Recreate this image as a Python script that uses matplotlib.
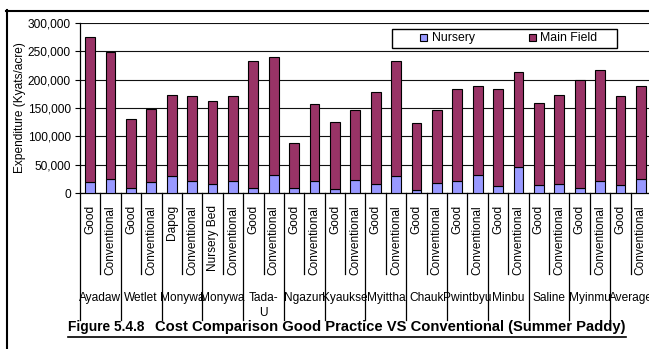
import matplotlib
matplotlib.use('Agg')
import matplotlib.pyplot as plt
from matplotlib.lines import Line2D
from matplotlib.patches import Rectangle
from matplotlib.ticker import FuncFormatter

plt.rcParams['font.family'] = ['Liberation Sans', 'DejaVu Sans']

# practice label under each bar
practices = ['Good', 'Conventional', 'Good', 'Conventional', 'Dapog', 'Conventional',
             'Nursery Bed', 'Conventional', 'Good', 'Conventional', 'Good', 'Conventional',
             'Good', 'Conventional', 'Good', 'Conventional', 'Good', 'Conventional',
             'Good', 'Conventional', 'Good', 'Conventional', 'Good', 'Conventional',
             'Good', 'Conventional', 'Good', 'Conventional']
# township label under each pair of bars
townships = ['Ayadaw', 'Wetlet', 'Monywa', 'Monywa', 'Tada-\nU', 'Ngazun', 'Kyaukse',
             'Myittha', 'Chauk', 'Pwintbyu', 'Minbu', 'Saline', 'Myinmu', 'Average']

nursery = [19000, 25000, 9000, 19000, 31000, 21000, 16000, 21000, 9000, 32000,
           9000, 21000, 7000, 23000, 16000, 30000, 5000, 18000, 21000, 32000,
           12000, 46000, 14000, 16000, 9000, 21000, 14000, 25000]
main_field = [255000, 223000, 121000, 129000, 142000, 150000, 146000, 150000, 223000, 207000,
              80000, 136000, 118000, 123000, 162000, 202000, 118000, 128000, 163000, 157000,
              172000, 168000, 145000, 157000, 191000, 195000, 157000, 164000]

W, H = 649, 349
fig = plt.figure(figsize=(W / 100, H / 100), dpi=100)

def fx(px):
    return px / W

def fy(py):
    return 1 - py / H

# plot area (runs a little past the right edge of the page)
ax_l, ax_t, ax_b, ax_r = 80, 22.7, 193.3, 651
ax = fig.add_axes([fx(ax_l), fy(ax_b), fx(ax_r - ax_l), (ax_b - ax_t) / H])

x = list(range(len(practices)))
ax.bar(x, nursery, width=0.48, color='#9999FF', edgecolor='black', linewidth=0.8,
       label='Nursery', zorder=3)
ax.bar(x, main_field, width=0.48, bottom=nursery, color='#993366', edgecolor='black',
       linewidth=0.8, label='Main Field', zorder=3)

ax.set_xlim(-0.5, len(practices) - 0.5)
ax.set_ylim(0, 300000)
ax.set_yticks(range(0, 300001, 50000))
ax.yaxis.set_major_formatter(FuncFormatter(lambda v, p: f'{int(v):,}'))
ax.tick_params(axis='y', direction='out', length=3.6, width=0.8, pad=3, labelsize=8.6)
ax.set_xticks([])
ax.yaxis.grid(True, color='#111111', linewidth=0.8)
ax.set_axisbelow(True)
for side in ['top', 'right']:
    ax.spines[side].set_visible(False)
for side in ['left', 'bottom']:
    ax.spines[side].set_linewidth(0.9)

ax.set_ylabel('Expenditure (Kyats/acre)', fontsize=8.6, labelpad=1)

# two-level category axis
ah = ax_b - ax_t
trans = ax.get_xaxis_transform()
for i, lab in enumerate(practices):
    ax.text(i, -(205 - ax_b) / ah, lab, transform=trans, rotation=90,
            ha='center', va='top', fontsize=8.6)
for k in range(len(practices) + 1):
    xb = k - 0.5
    depth = 320 if k % 2 == 0 else 274
    ax.add_line(Line2D([xb, xb], [0, -(depth - ax_b) / ah], transform=trans,
                       color='black', linewidth=0.9, clip_on=False))
for g, name in enumerate(townships):
    ax.text(2 * g + 0.5, -(292 - ax_b) / ah, name, transform=trans, ha='center',
            va='top', fontsize=8.6, linespacing=1.35)

# legend box
lx0, ly0, lx1, ly1 = 392, 28.7, 617, 48.3
fig.patches.append(Rectangle((fx(lx0), fy(ly1)), fx(lx1 - lx0), (ly1 - ly0) / H,
                             transform=fig.transFigure, facecolor='white',
                             edgecolor='black', linewidth=1.0, zorder=5))
for sx, tx, col, lab in [(420, 432, '#9999FF', 'Nursery'), (529, 540, '#993366', 'Main Field')]:
    fig.patches.append(Rectangle((fx(sx), fy(41)), fx(7), 7 / H, transform=fig.transFigure,
                                 facecolor=col, edgecolor='black', linewidth=0.8, zorder=6))
    fig.text(fx(tx), fy(37.8), lab, ha='left', va='center', fontsize=8.8, zorder=6)

# outer chart frame
fig.add_artist(Line2D([fx(6.5), fx(6.5)], [fy(10), 0], transform=fig.transFigure,
                      color='black', linewidth=1.5))
fig.add_artist(Line2D([fx(6), 1], [fy(10.5), fy(10.5)], transform=fig.transFigure,
                      color='black', linewidth=1.5))

# figure caption, underlined
cap1 = fig.text(fx(68), fy(331), 'Figure 5.4.8', ha='left', va='baseline',
                fontsize=9.9, fontweight='bold')
cap2 = fig.text(fx(155), fy(331), 'Cost Comparison Good Practice VS Conventional (Summer Paddy)',
                ha='left', va='baseline', fontsize=10.6, fontweight='bold')
fig.canvas.draw()
bb1 = cap1.get_window_extent()
bb2 = cap2.get_window_extent()
fig.add_artist(Line2D([bb1.x0 / W, bb2.x1 / W], [fy(336.5), fy(336.5)],
                      transform=fig.transFigure, color='black', linewidth=1.2))

fig.savefig('out.png', dpi=100)
